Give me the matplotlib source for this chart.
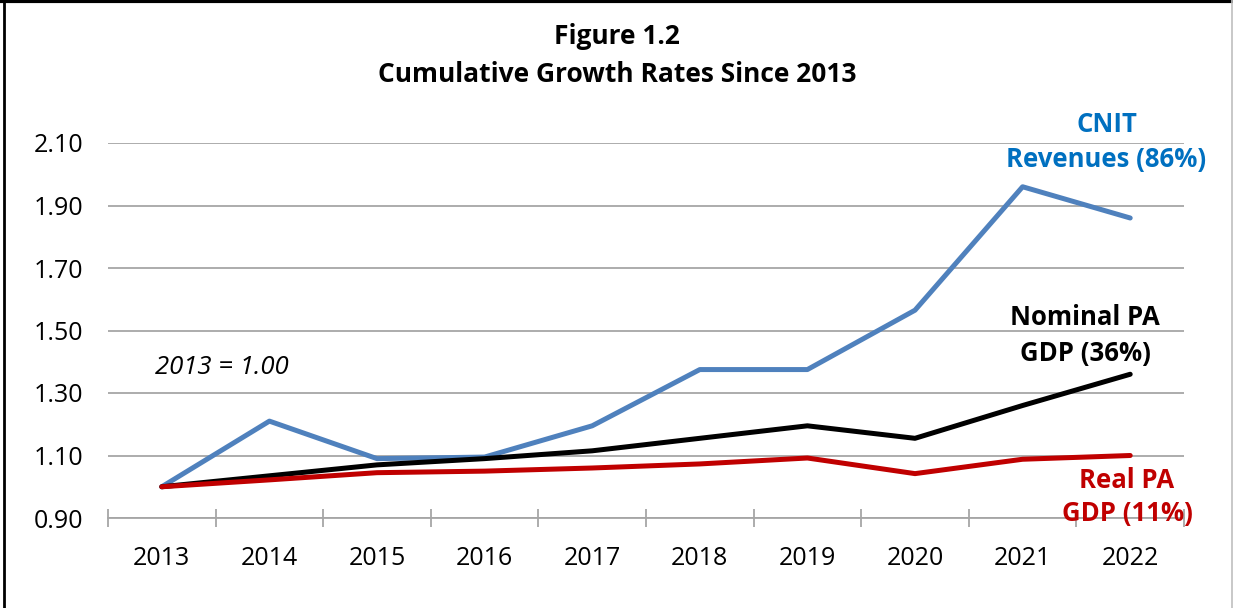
import matplotlib
matplotlib.use('Agg')
import matplotlib.pyplot as plt
from matplotlib.lines import Line2D

plt.rcParams['font.family'] = ['Open Sans', 'DejaVu Sans']

# data (2013 = 1.00)
years = ['2013', '2014', '2015', '2016', '2017', '2018', '2019', '2020', '2021', '2022']
cnit = [1.00, 1.21, 1.09, 1.095, 1.195, 1.375, 1.375, 1.565, 1.96, 1.86]
nominal = [1.00, 1.035, 1.07, 1.09, 1.115, 1.155, 1.195, 1.155, 1.26, 1.36]
real = [1.00, 1.022, 1.045, 1.05, 1.06, 1.073, 1.092, 1.042, 1.088, 1.10]
yticks = [0.90, 1.10, 1.30, 1.50, 1.70, 1.90, 2.10]

fig = plt.figure(figsize=(12.33, 6.08), dpi=100)
W, H = 1233, 608
ax = fig.add_axes([108 / W, 1 - 518 / H, (1184 - 108) / W, (518 - 143) / H])

x = list(range(len(years)))
ax.plot(x, cnit, color='#4F81BD', lw=3.6, solid_capstyle='round', zorder=3)
ax.plot(x, nominal, color='black', lw=3.6, solid_capstyle='round', zorder=4)
ax.plot(x, real, color='#C00000', lw=3.6, solid_capstyle='round', zorder=5)

ax.set_xlim(-0.5, len(years) - 0.5)
ax.set_ylim(0.90, 2.10)
ax.set_yticks(yticks)
ax.set_yticklabels(['%.2f' % v for v in yticks])
ax.set_xticks(x)
ax.set_xticklabels(years)
ax.set_xticks([i - 0.5 for i in range(len(years) + 1)], minor=True)

ax.grid(axis='y', color='#A6A6A6', lw=1.3)
ax.set_axisbelow(True)
for s in ['top', 'right', 'left']:
    ax.spines[s].set_visible(False)
ax.spines['bottom'].set_color('#A6A6A6')
ax.spines['bottom'].set_linewidth(1.3)
ax.tick_params(axis='y', length=0, pad=18, labelsize=18)
ax.tick_params(axis='x', which='major', length=0, pad=20, labelsize=18)
ax.tick_params(axis='x', which='minor', direction='inout', length=13, width=1.3, color='#A6A6A6')

# title
fig.text(617 / W, 1 - 36 / H, 'Figure 1.2', ha='center', va='center', fontsize=19, fontweight='bold')
fig.text(617 / W, 1 - 74 / H, 'Cumulative Growth Rates Since 2013', ha='center', va='center',
         fontsize=19, fontweight='bold')

# series labels
lab = dict(ha='center', va='center', fontsize=18.5, fontweight='bold', clip_on=False)
ax.text(8.78, 2.158, 'CNIT', color='#0070C0', **lab)
ax.text(8.78, 2.046, 'Revenues (86%)', color='#0070C0', **lab)
ax.text(8.58, 1.543, 'Nominal PA', color='black', **lab)
ax.text(8.58, 1.428, 'GDP (36%)', color='black', **lab)
ax.text(8.97, 1.02, 'Real PA', color='#C00000', **lab)
ax.text(8.97, 0.913, 'GDP (11%)', color='#C00000', **lab)
ax.text(0.56, 1.383, '2013 = 1.00', ha='center', va='center', fontsize=18.5, style='italic')

# frame around the figure
fig.add_artist(Line2D([4 / W, 4 / W], [0, 1], color='black', lw=2, transform=fig.transFigure))
fig.add_artist(Line2D([0, 1], [1 - 1 / H, 1 - 1 / H], color='black', lw=3, transform=fig.transFigure))
fig.add_artist(Line2D([1231.5 / W, 1231.5 / W], [0, 1], color='#BFBFBF', lw=1.2, transform=fig.transFigure))

fig.savefig('out.png', dpi=100)
